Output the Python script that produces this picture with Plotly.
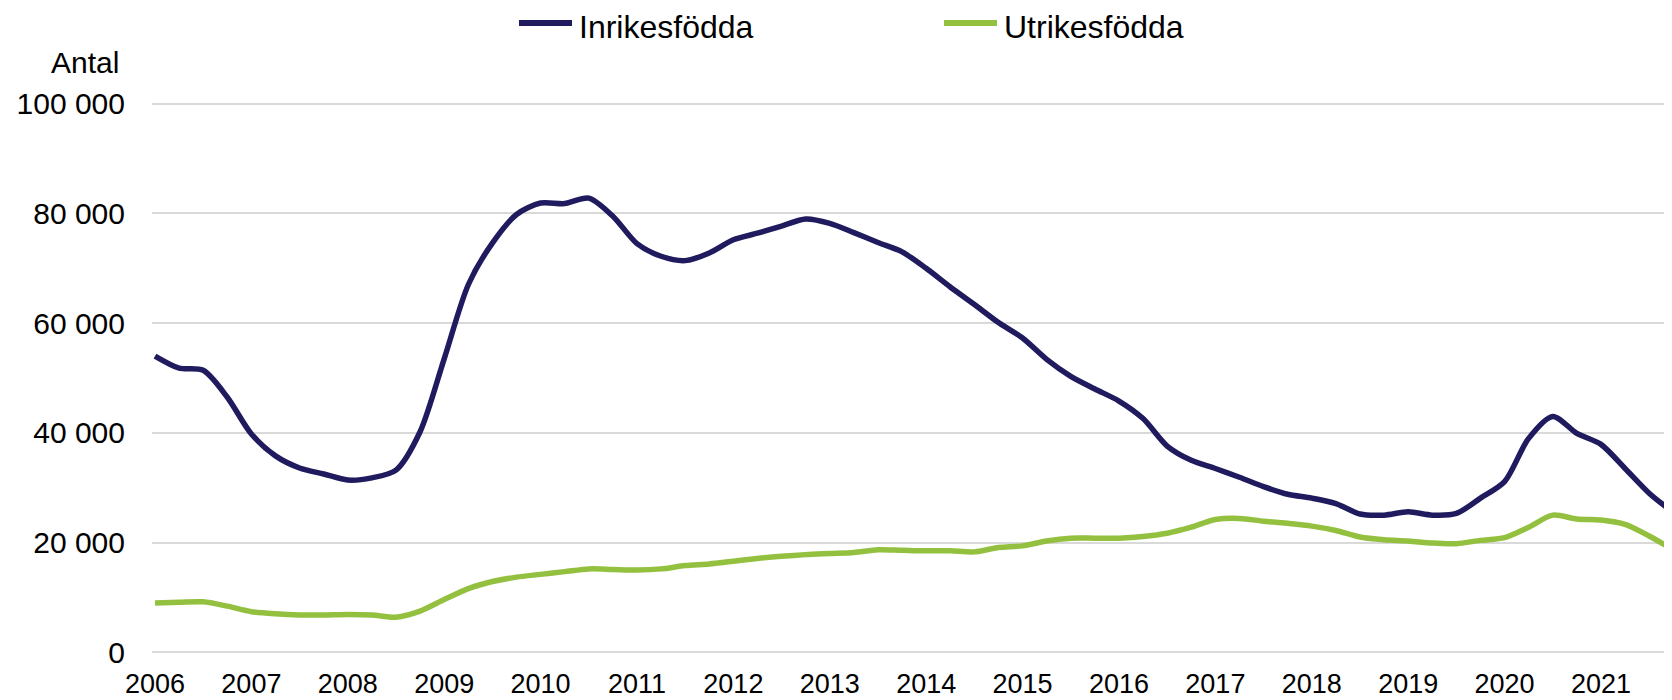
import plotly.graph_objects as go

# Quarterly readings (decimal years), values in thousands
years = [2006.00, 2006.25, 2006.50, 2006.75, 2007.00, 2007.25, 2007.50, 2007.75,
         2008.00, 2008.25, 2008.50, 2008.75, 2009.00, 2009.25, 2009.50, 2009.75,
         2010.00, 2010.25, 2010.50, 2010.75, 2011.00, 2011.25, 2011.50, 2011.75,
         2012.00, 2012.25, 2012.50, 2012.75, 2013.00, 2013.25, 2013.50, 2013.75,
         2014.00, 2014.25, 2014.50, 2014.75, 2015.00, 2015.25, 2015.50, 2015.75,
         2016.00, 2016.25, 2016.50, 2016.75, 2017.00, 2017.25, 2017.50, 2017.75,
         2018.00, 2018.25, 2018.50, 2018.75, 2019.00, 2019.25, 2019.50, 2019.75,
         2020.00, 2020.25, 2020.50, 2020.75, 2021.00, 2021.25, 2021.50, 2021.72]

inrikes = [54.0, 51.8, 51.4, 46.5, 39.8, 35.8, 33.6, 32.5,
           31.4, 31.8, 33.2, 40.2, 53.5, 67.0, 74.6, 79.8,
           81.9, 81.8, 82.8, 79.5, 74.5, 72.2, 71.4, 72.8,
           75.2, 76.4, 77.7, 79.0, 78.2, 76.5, 74.7, 73.0,
           70.0, 66.6, 63.4, 60.1, 57.3, 53.4, 50.3, 48.0,
           45.8, 42.6, 37.6, 35.0, 33.5, 31.9, 30.2, 28.8,
           28.1, 27.1, 25.2, 25.0, 25.6, 25.0, 25.3, 28.1,
           31.1, 39.0, 43.0, 39.9, 37.9, 33.5, 29.0, 25.9]

utrikes = [9.0, 9.1, 9.2, 8.4, 7.4, 7.0, 6.8, 6.8,
           6.9, 6.8, 6.4, 7.5, 9.6, 11.6, 12.9, 13.7,
           14.2, 14.7, 15.2, 15.1, 15.0, 15.2, 15.8, 16.1,
           16.6, 17.1, 17.5, 17.8, 18.0, 18.2, 18.7, 18.6,
           18.5, 18.5, 18.3, 19.1, 19.4, 20.3, 20.8, 20.8,
           20.8, 21.1, 21.7, 22.8, 24.2, 24.4, 23.9, 23.5,
           23.0, 22.2, 21.0, 20.5, 20.3, 19.9, 19.8, 20.4,
           20.9, 22.8, 25.0, 24.3, 24.1, 23.3, 21.2, 19.0]

series_names = ["Inrikesfödda", "Utrikesfödda"]
year_ticks = list(range(2006, 2022))
year_labels = [str(y) for y in year_ticks]
y_ticks = [0, 20000, 40000, 60000, 80000, 100000]
y_labels = ["0", "20 000", "40 000", "60 000", "80 000", "100 000"]

NAVY = "#1F1B5E"
GREEN = "#93C13F"
COLORS = [NAVY, GREEN]
FONT = "Liberation Sans, Arial, sans-serif"

# Page body has an 8px margin; the layout is offset to compensate.
W, H = 1672, 700
ML, MR, MT, MB = 144, 8, 93, 53
PW = W - ML - MR
PH = H - MT - MB


def px_x(fx):
    return (fx - ML) / PW


def px_y(fy):
    return (H - MB - fy) / PH


fig = go.Figure()
for name, vals, col in zip(series_names, [inrikes, utrikes], COLORS):
    fig.add_trace(go.Scatter(x=years, y=[v * 1000 for v in vals], name=name,
                             mode="lines",
                             line=dict(color=col, width=5.5, shape="spline", smoothing=0.8)))

# Legend drawn at the top (line sample + label)
legend_line_x = [(511, 564), (936, 989)]
legend_text_x = [569, 994]
legend_line_y = 15
legend_text_y = 19
shapes = []
annotations = []
for (x0, x1), tx, name, col in zip(legend_line_x, legend_text_x, series_names, COLORS):
    shapes.append(dict(type="line", xref="paper", yref="paper",
                       x0=px_x(x0), x1=px_x(x1), y0=px_y(legend_line_y), y1=px_y(legend_line_y),
                       line=dict(color=col, width=6)))
    annotations.append(dict(text=name, xref="paper", yref="paper",
                            x=px_x(tx), y=px_y(legend_text_y), xanchor="left", yanchor="middle",
                            showarrow=False, font=dict(size=32, color="black")))

annotations.append(dict(text="Antal", xref="paper", yref="paper", x=px_x(113), y=px_y(55),
                        xanchor="right", yanchor="middle", showarrow=False,
                        font=dict(size=30, color="black")))

fig.update_layout(
    width=W, height=H,
    margin=dict(l=ML, r=MR, t=MT, b=MB),
    paper_bgcolor="white", plot_bgcolor="white",
    font=dict(family=FONT, color="black"),
    showlegend=False,
    xaxis=dict(range=[2005.969, 2021.737], tickvals=year_ticks, ticktext=year_labels,
               showgrid=False, zeroline=False, showline=False, ticks="",
               tickfont=dict(size=27), ticklabelstandoff=10),
    yaxis=dict(range=[-500, 100500], tickvals=y_ticks, ticktext=y_labels,
               showgrid=True, gridcolor="#D9D9D9", gridwidth=2,
               zeroline=False, showline=False, ticks="",
               tickfont=dict(size=30), ticklabelstandoff=26),
    shapes=shapes,
    annotations=annotations,
)

fig.write_html("out.html")
